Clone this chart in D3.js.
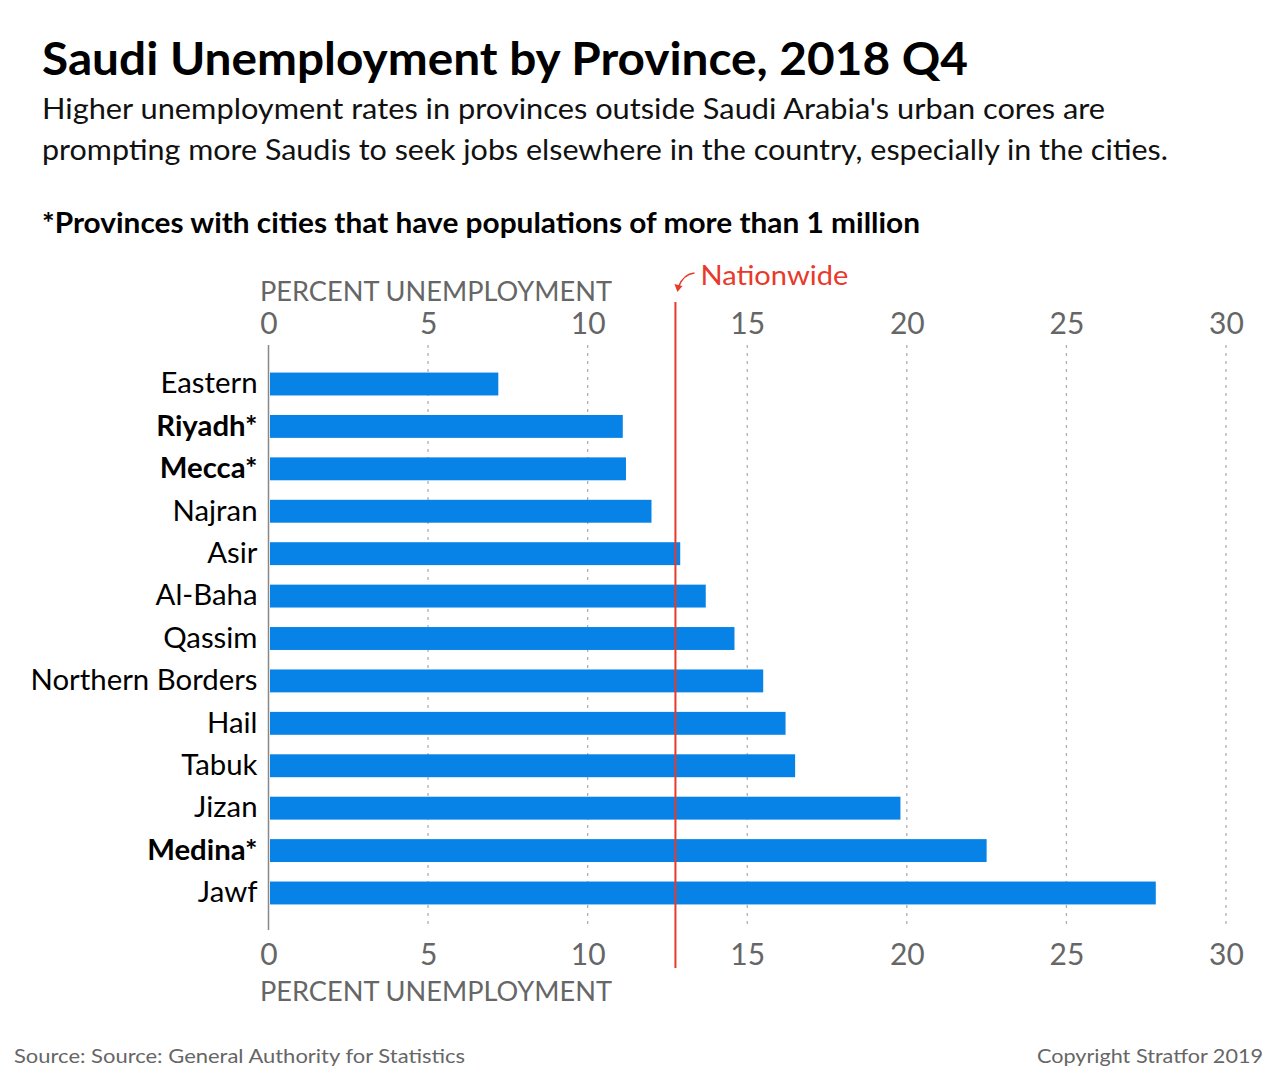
<!DOCTYPE html>
<html>
<head>
<meta charset="utf-8">
<script src="https://cdn.jsdelivr.net/npm/d3@7"></script>
<style>
  html, body { margin: 0; padding: 0; background: #fff; }
  svg { display: block; font-family: Lato, "Open Sans", sans-serif; }
</style>
</head>
<body>
<svg id="chart" width="1280" height="1082"></svg>
<script>
// values (percent unemployment, 2018 Q4)
const provinces = ['Eastern', 'Riyadh', 'Mecca', 'Najran', 'Asir', 'Al-Baha', 'Qassim',
  'Northern Borders', 'Hail', 'Tabuk', 'Jizan', 'Medina', 'Jawf'];
const rates = [7.2, 11.1, 11.2, 12.0, 12.9, 13.7, 14.6, 15.5, 16.2, 16.5, 19.8, 22.5, 27.8];
const bigCityProvinces = ['Riyadh', 'Mecca', 'Medina'];
const xTicks = [0, 5, 10, 15, 20, 25, 30];
const nationwide = 12.75;

const TITLE = 'Saudi Unemployment by Province, 2018 Q4';
const SUBTITLE = [
  "Higher unemployment rates in provinces outside Saudi Arabia's urban cores are",
  'prompting more Saudis to seek jobs elsewhere in the country, especially in the cities.'
];
const NOTE = '*Provinces with cities that have populations of more than 1 million';
const AXIS_TITLE = 'PERCENT UNEMPLOYMENT';
const SOURCE = 'Source: Source: General Authority for Statistics';
const COPYRIGHT = 'Copyright Stratfor 2019';

const BLUE = '#0783e8';
const RED = '#e8392b';
const GREY = '#666';

const svg = d3.select('#chart');

// squeeze text to a target width, the original face is a condensed sans
function fit(sel, w) {
  sel.attr('textLength', w).attr('lengthAdjust', 'spacingAndGlyphs');
  return sel;
}

// header
fit(svg.append('text')
  .attr('x', 42).attr('y', 75)
  .attr('font-size', 46).attr('font-weight', 700).attr('fill', '#000')
  .text(TITLE), 926);

const subW = [1063, 1126];
SUBTITLE.forEach((line, i) => {
  fit(svg.append('text')
    .attr('x', 42).attr('y', 119 + i * 41)
    .attr('font-size', 28).attr('fill', '#111')
    .text(line), subW[i]);
});

fit(svg.append('text')
  .attr('x', 42).attr('y', 233)
  .attr('font-size', 28).attr('font-weight', 700).attr('fill', '#000')
  .text(NOTE), 878);

// scales
const x = d3.scaleLinear().domain([0, 30]).range([268.5, 1226]);
const y = d3.scaleBand().domain(provinces).range([362.8, 914.2])
  .paddingInner(0.46).paddingOuter(0.23);

const plotTop = 345;
const plotBottom = 929;

// dotted grid
svg.append('g')
  .selectAll('line')
  .data(xTicks.filter(t => t > 0))
  .join('line')
  .attr('x1', d => x(d)).attr('x2', d => x(d))
  .attr('y1', plotTop).attr('y2', plotBottom)
  .attr('stroke', '#aaa').attr('stroke-width', 1.2)
  .attr('stroke-dasharray', '3 5');

// bars
svg.append('g')
  .selectAll('rect')
  .data(provinces)
  .join('rect')
  .attr('x', x(0) + 1.5)
  .attr('y', d => y(d))
  .attr('width', (d, i) => x(rates[i]) - x(0) - 1.5)
  .attr('height', y.bandwidth())
  .attr('fill', BLUE);

// zero baseline
svg.append('line')
  .attr('x1', x(0)).attr('x2', x(0))
  .attr('y1', plotTop).attr('y2', plotBottom + 1)
  .attr('stroke', '#888').attr('stroke-width', 1.5);

// category labels
const yAxis = svg.append('g')
  .attr('transform', `translate(${x(0)},0)`)
  .call(d3.axisLeft(y).tickSize(0).tickPadding(11));
yAxis.select('.domain').remove();
yAxis.selectAll('text')
  .attr('font-family', 'Lato, "Open Sans", sans-serif')
  .attr('font-size', 29)
  .attr('fill', '#000')
  .attr('font-weight', d => bigCityProvinces.includes(d) ? 700 : 400)
  .text(d => bigCityProvinces.includes(d) ? d + '*' : d);

// condense labels by the factor that makes "Northern Borders" 227px wide
const refLabel = yAxis.selectAll('text').filter(d => d === 'Northern Borders').node();
const k = 227 / refLabel.getComputedTextLength();
yAxis.selectAll('text').each(function () {
  fit(d3.select(this), this.getComputedTextLength() * k);
});

// top and bottom axes
function styleTicks(g) {
  g.select('.domain').remove();
  g.selectAll('text')
    .attr('font-family', 'Lato, "Open Sans", sans-serif')
    .attr('font-size', 30)
    .attr('fill', GREY);
}

svg.append('g')
  .attr('transform', 'translate(0,337)')
  .call(d3.axisTop(x).tickValues(xTicks).tickSize(0).tickPadding(3))
  .call(styleTicks);

svg.append('g')
  .attr('transform', 'translate(0,941)')
  .call(d3.axisBottom(x).tickValues(xTicks).tickSize(0).tickPadding(3))
  .call(styleTicks);

[301, 1001].forEach(yy => {
  fit(svg.append('text')
    .attr('x', 260).attr('y', yy)
    .attr('font-size', 27).attr('fill', GREY)
    .text(AXIS_TITLE), 352);
});

// nationwide reference line
const nx = x(nationwide);
svg.append('line')
  .attr('x1', nx).attr('x2', nx)
  .attr('y1', 302).attr('y2', 968)
  .attr('stroke', RED).attr('stroke-width', 2);

fit(svg.append('text')
  .attr('x', nx + 25).attr('y', 285)
  .attr('font-size', 27).attr('fill', RED)
  .text('Nationwide'), 148);

svg.append('path')
  .attr('d', `M${nx + 19},273 Q${nx + 8},274 ${nx + 3},287`)
  .attr('fill', 'none').attr('stroke', RED).attr('stroke-width', 1.5);
svg.append('path')
  .attr('d', `M${nx - 1},284 L${nx + 2},292 L${nx + 7},286 Z`)
  .attr('fill', RED);

// footer
fit(svg.append('text')
  .attr('x', 14).attr('y', 1063)
  .attr('font-size', 20).attr('fill', GREY)
  .text(SOURCE), 451);

fit(svg.append('text')
  .attr('x', 1263).attr('y', 1063)
  .attr('text-anchor', 'end')
  .attr('font-size', 20).attr('fill', GREY)
  .text(COPYRIGHT), 226);
</script>
</body>
</html>
